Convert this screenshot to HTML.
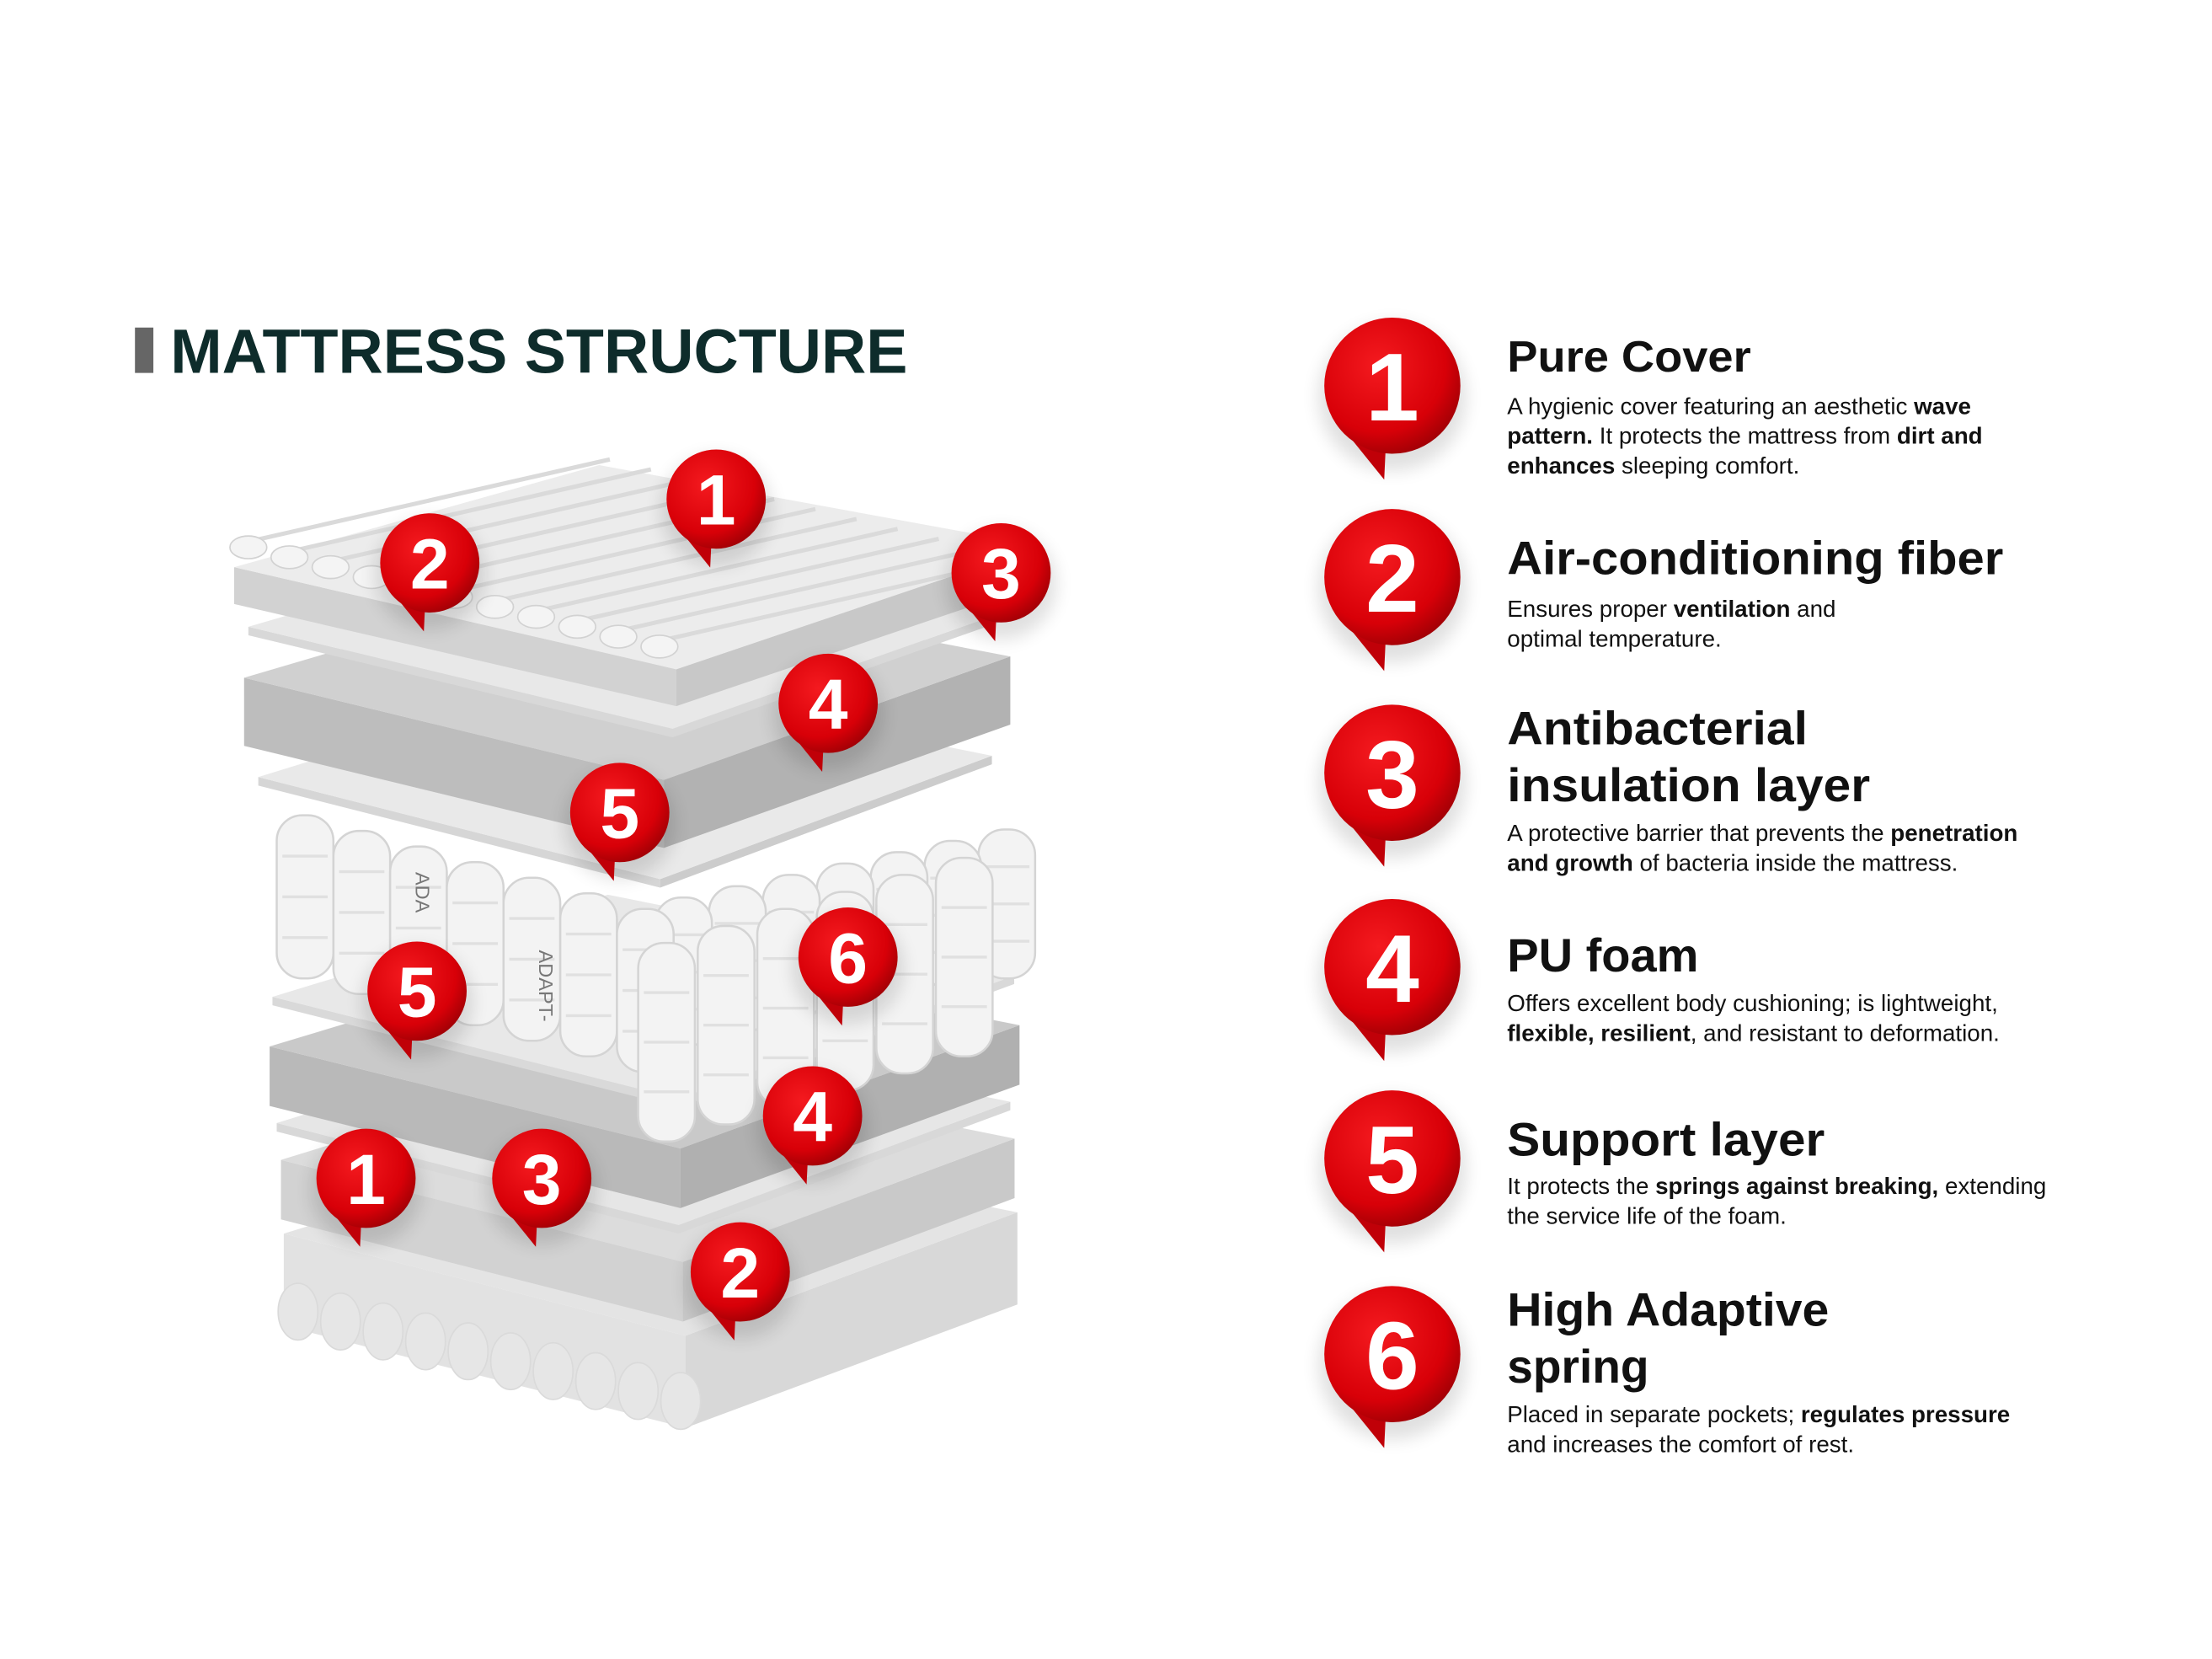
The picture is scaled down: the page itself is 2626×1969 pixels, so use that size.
<!DOCTYPE html>
<html><head><meta charset="utf-8">
<style>
html,body{margin:0;padding:0;background:#fff;}
svg{display:block;}
text{font-family:"Liberation Sans",sans-serif;}
</style></head>
<body>
<svg id="s" width="2626" height="1969" viewBox="0 0 1560 1170" xmlns="http://www.w3.org/2000/svg">
<defs>
<radialGradient id="rg" cx="0.4" cy="0.35" r="0.7">
<stop offset="0" stop-color="#f41a1f"/><stop offset="0.7" stop-color="#d80008"/><stop offset="1" stop-color="#9c0005"/>
</radialGradient>
<filter id="sh" x="-50%" y="-50%" width="200%" height="200%"><feGaussianBlur stdDeviation="6"/></filter>
</defs>
<rect width="1560" height="1170" fill="#fff"/>
<rect x="95" y="231" width="13" height="32" fill="#666"/>
<text x="120" y="263" font-size="44" font-weight="bold" fill="#0e2c2b" textLength="520" lengthAdjust="spacingAndGlyphs">MATTRESS STRUCTURE</text>
<g id="mat"></g>
<g id="pins"></g>
<g fill="#111">
<text x="1063" y="262" font-size="31" font-weight="bold" textLength="172" lengthAdjust="spacingAndGlyphs">Pure Cover</text>
<text font-size="16.5"><tspan x="1063" y="292">A hygienic cover featuring an aesthetic <tspan font-weight="bold">wave</tspan></tspan><tspan x="1063" y="313"><tspan font-weight="bold">pattern.</tspan> It protects the mattress from <tspan font-weight="bold">dirt and</tspan></tspan><tspan x="1063" y="334"><tspan font-weight="bold">enhances</tspan> sleeping comfort.</tspan></text>

<text x="1063" y="405" font-size="33" font-weight="bold" textLength="350" lengthAdjust="spacingAndGlyphs">Air-conditioning fiber</text>
<text font-size="16.5"><tspan x="1063" y="435">Ensures proper <tspan font-weight="bold">ventilation</tspan> and</tspan><tspan x="1063" y="456">optimal temperature.</tspan></text>

<text x="1063" y="525" font-size="33" font-weight="bold" textLength="212" lengthAdjust="spacingAndGlyphs">Antibacterial</text>
<text x="1063" y="565" font-size="33" font-weight="bold" textLength="256" lengthAdjust="spacingAndGlyphs">insulation layer</text>
<text font-size="16.5"><tspan x="1063" y="593">A protective barrier that prevents the <tspan font-weight="bold">penetration</tspan></tspan><tspan x="1063" y="614"><tspan font-weight="bold">and growth</tspan> of bacteria inside the mattress.</tspan></text>

<text x="1063" y="685" font-size="33" font-weight="bold" textLength="135" lengthAdjust="spacingAndGlyphs">PU foam</text>
<text font-size="16.5"><tspan x="1063" y="713">Offers excellent body cushioning; is lightweight,</tspan><tspan x="1063" y="734"><tspan font-weight="bold">flexible, resilient</tspan>, and resistant to deformation.</tspan></text>

<text x="1063" y="815" font-size="33" font-weight="bold" textLength="224" lengthAdjust="spacingAndGlyphs">Support layer</text>
<text font-size="16.5"><tspan x="1063" y="842">It protects the <tspan font-weight="bold">springs against breaking,</tspan> extending</tspan><tspan x="1063" y="863">the service life of the foam.</tspan></text>

<text x="1063" y="935" font-size="33" font-weight="bold" textLength="227" lengthAdjust="spacingAndGlyphs">High Adaptive</text>
<text x="1063" y="975" font-size="33" font-weight="bold" textLength="100" lengthAdjust="spacingAndGlyphs">spring</text>
<text font-size="16.5"><tspan x="1063" y="1003">Placed in separate pockets; <tspan font-weight="bold">regulates pressure</tspan></tspan><tspan x="1063" y="1024">and increases the comfort of rest.</tspan></text>
</g>
</svg>
<script>
var NS="http://www.w3.org/2000/svg";
var mat=document.getElementById("mat"),pins=document.getElementById("pins");
function el(p,t,a){var e=document.createElementNS(NS,t);for(var k in a)e.setAttribute(k,a[k]);p.appendChild(e);return e;}
function slab(x,y,w,th,top,side,side2){
  var L=[x,y],F=[x+315*w,y+72],R=[x+575*w,y-15],B=[x+260*w,y-72];
  var pt=function(a){return a[0]+","+a[1];};
  el(mat,"polygon",{points:[pt(L),pt(F),[F[0],F[1]+th].join(","),[L[0],L[1]+th].join(",")].join(" "),fill:side});
  el(mat,"polygon",{points:[pt(F),pt(R),[R[0],R[1]+th].join(","),[F[0],F[1]+th].join(",")].join(" "),fill:side2||side});
  el(mat,"polygon",{points:[pt(L),pt(F),pt(R),pt(B)].join(" "),fill:top});
}
// bottom to top
slab(200,870,0.9,65,"#e4e4e4","#e2e2e2","#d8d8d8");
for(var i=0;i<10;i++){el(mat,"ellipse",{cx:210+i*30,cy:925+i*7,rx:14,ry:20,fill:"#e6e6e6",stroke:"#dadada","stroke-width":1});}
slab(198,818,0.9,42,"#dcdcdc","#d2d2d2","#c9c9c9");
slab(195,792,0.9,6,"#e6e6e6","#d8d8d8");
slab(190,738,0.92,42,"#c9c9c9","#b9b9b9","#b0b0b0");
slab(192,703,0.91,6,"#e8e8e8","#d9d9d9");
function spring(x,y,h){el(mat,"rect",{x:x,y:y,width:40,height:h,rx:18,fill:"#f3f3f3",stroke:"#d4d4d4","stroke-width":1.5});
 for(var k=1;k<4;k++)el(mat,"line",{x1:x+4,y1:y+k*h/4,x2:x+36,y2:y+k*h/4,stroke:"#e0e0e0","stroke-width":2});}
for(var j=0;j<7;j++){spring(690-j*38,585+j*8,105);}
for(var j=0;j<7;j++){spring(195+j*40,575+j*11,115);}
for(var j=0;j<6;j++){spring(450+j*42,665-j*12,140);}
el(mat,"text",{x:380,y:670,"font-size":14,fill:"#777",transform:"rotate(90 380 670)"}).textContent="ADAPT-";
el(mat,"text",{x:293,y:615,"font-size":14,fill:"#777",transform:"rotate(90 293 615)"}).textContent="ADA";
slab(182,548,0.9,6,"#e9e9e9","#d6d6d6","#cccccc");
slab(172,478,0.94,48,"#d0d0d0","#bdbdbd","#b2b2b2");
slab(175,442,0.95,6,"#e8e8e8","#d8d8d8");
slab(165,400,0.99,26,"#ececec","#d2d2d2","#c8c8c8");
for(var i=0;i<11;i++){var x0=175+i*29,y0=382+i*7;el(mat,"line",{x1:x0,y1:y0,x2:x0+255,y2:y0-58,stroke:"#dadada","stroke-width":3});
 el(mat,"ellipse",{cx:x0,cy:y0+4,rx:13,ry:8,fill:"#f4f4f4",stroke:"#d2d2d2","stroke-width":1});}

function pin(cx,cy,r,n,fs){
  el(pins,"circle",{cx:cx,cy:cy+8,r:r+4,fill:"#000",opacity:0.12,filter:"url(#sh)"});
  el(pins,"path",{d:"M"+(cx-r*0.75)+","+(cy+r*0.6)+" L"+(cx-r*0.12)+","+(cy+r*1.38)+" L"+(cx-r*0.1)+","+(cy+r*0.95)+" Z",fill:"#c00008"});
  el(pins,"circle",{cx:cx,cy:cy,r:r,fill:"url(#rg)"});
  var t=el(pins,"text",{x:cx,y:cy+fs*0.36,"font-size":fs,"font-weight":"bold",fill:"#fff","text-anchor":"middle"});t.textContent=n;
}
[[505,352,"1"],[303,397,"2"],[706,404,"3"],[584,496,"4"],[437,573,"5"],[294,699,"5"],[598,675,"6"],[573,787,"4"],[258,831,"1"],[382,831,"3"],[522,897,"2"]].forEach(function(p){pin(p[0],p[1],35,p[2],50);});
[[982,272,"1"],[982,407,"2"],[982,545,"3"],[982,682,"4"],[982,817,"5"],[982,955,"6"]].forEach(function(p){pin(p[0],p[1],48,p[2],68);});
</script>
</body></html>
